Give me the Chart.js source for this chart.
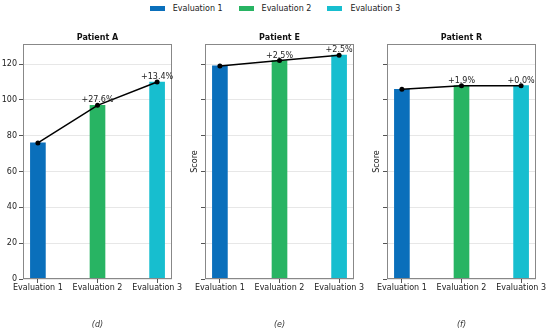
<!DOCTYPE html>
<html>
<head>
<meta charset="utf-8">
<script src="https://cdn.jsdelivr.net/npm/chart.js@4"></script>
<style>
  body { margin: 0; width: 550px; height: 331px; background: #fff; position: relative; overflow: hidden; font-family: "DejaVu Sans", sans-serif; }
  canvas { position: absolute; top: 0; }
  #legend { position: absolute; top: 4px; left: 0; width: 550px; display: flex; justify-content: center; font-size: 8px; color: #222; }
  #legend span.item { display: flex; align-items: center; margin: 0 8px; }
  #legend span.box { display: inline-block; width: 15px; height: 5px; margin-right: 8px; }
</style>
</head>
<body>
<div id="legend"></div>
<canvas id="c0"></canvas>
<canvas id="c1"></canvas>
<canvas id="c2"></canvas>
<script>
let categories = ["Evaluation 1", "Evaluation 2", "Evaluation 3"];
let colors = ["#0a6fbb", "#28b463", "#17becf"];
let patients = ["Patient A", "Patient E", "Patient R"];
let captions = ["(d)", "(e)", "(f)"];
let scoresA = [76, 97, 110];
let scoresE = [119, 122, 125];
let scoresR = [106, 108, 108];
let yTicks = [0, 20, 40, 60, 80, 100, 120];
let yMax = 131.25;

let series = [scoresA, scoresE, scoresR];

// canvas left, canvas width, y axis width (plot left = left + axis width)
let panels = [
    { left: 0, width: 192, axisW: 23, showLabels: true },
    { left: 186, width: 188, axisW: 19, showLabels: false },
    { left: 368, width: 182, axisW: 19, showLabels: false }
];

let legend = document.getElementById("legend");
categories.forEach((c, i) => {
    legend.innerHTML += `<span class="item"><span class="box" style="background:${colors[i]}"></span>${c}</span>`;
});

function pct(vals, i) {
    let p = (vals[i] - vals[i-1]) / vals[i-1] * 100;
    return (p >= 0 ? "+" : "") + p.toFixed(1) + "%";
}

let extras = {
    id: "extras",
    afterDraw(chart) {
        let ctx = chart.ctx;
        let a = chart.chartArea;
        let info = chart.options.plugins.extras;
        ctx.save();
        ctx.strokeStyle = "#888";
        ctx.lineWidth = 1;
        ctx.strokeRect(a.left + 0.5, a.top + 0.5, a.right - a.left - 1, a.bottom - a.top - 1);

        ctx.fillStyle = "#111";
        ctx.textAlign = "center";
        ctx.font = "bold 8px 'DejaVu Sans'";
        ctx.textBaseline = "alphabetic";
        ctx.fillText(info.title, (a.left + a.right) / 2, a.top - 4);

        ctx.font = "italic 8px 'DejaVu Sans'";
        ctx.fillStyle = "#333";
        ctx.fillText(info.caption, (a.left + a.right) / 2, 327);

        ctx.font = "8px 'DejaVu Sans'";
        ctx.fillStyle = "#222";
        let vals = info.vals;
        let xs = chart.scales.x, ys = chart.scales.y;
        for (let i = 1; i < vals.length; i++) {
            ctx.fillText(pct(vals, i), xs.getPixelForValue(i), ys.getPixelForValue(vals[i]) - 3);
        }
        ctx.restore();
    }
};

panels.forEach((p, k) => {
    let cv = document.getElementById("c" + k);
    cv.style.left = p.left + "px";
    cv.width = p.width;
    cv.height = 331;
    cv.style.width = p.width + "px";
    cv.style.height = "331px";

    let vals = series[k];
    let pts = vals.map((v, i) => ({ x: i, y: v }));

    new Chart(cv, {
        data: {
            datasets: [
                {
                    type: "line",
                    data: pts,
                    borderColor: "#000",
                    borderWidth: 1.5,
                    pointRadius: 2.5,
                    pointBackgroundColor: "#000",
                    pointBorderWidth: 0,
                    order: 0
                },
                {
                    type: "bar",
                    data: pts,
                    backgroundColor: colors,
                    barThickness: 15,
                    order: 1
                }
            ]
        },
        options: {
            responsive: false,
            animation: false,
            layout: { padding: { top: 44, right: p.width - p.axisW - 149, bottom: 32, left: 0 } },
            plugins: {
                legend: { display: false },
                tooltip: { enabled: false },
                extras: { title: patients[k], caption: captions[k], vals: vals }
            },
            scales: {
                x: {
                    type: "linear",
                    offset: false,
                    min: -0.25,
                    max: 2.25,
                    afterBuildTicks: s => { s.ticks = categories.map((_, i) => ({ value: i })); },
                    afterFit: s => { s.height = 20; s.paddingLeft = 0; s.paddingRight = 0; },
                    ticks: {
                        callback: v => categories[v],
                        font: { family: "DejaVu Sans", size: 8 },
                        color: "#222",
                        padding: 0,
                        maxRotation: 0,
                        autoSkip: false
                    },
                    grid: { offset: false, drawOnChartArea: false, drawTicks: true, tickLength: 4, tickColor: "#555", tickWidth: 1 },
                    border: { display: false }
                },
                y: {
                    min: 0,
                    max: yMax,
                    afterBuildTicks: s => { s.ticks = yTicks.map(v => ({ value: v })); },
                    afterFit: s => { s.width = p.axisW; s.paddingTop = 0; s.paddingBottom = 0; },
                    title: {
                        display: !p.showLabels,
                        text: "Score",
                        font: { family: "DejaVu Sans", size: 8 },
                        color: "#222",
                        padding: { top: 4, bottom: 0 }
                    },
                    ticks: {
                        display: p.showLabels,
                        font: { family: "DejaVu Sans", size: 8 },
                        color: "#222",
                        padding: 2
                    },
                    grid: {
                        color: "rgba(0,0,0,0.12)",
                        borderDash: [2, 2],
                        lineWidth: 0.8,
                        tickLength: 4,
                        tickColor: "#555",
                        tickWidth: 1,
                        tickBorderDash: []
                    },
                    border: { display: false }
                }
            }
        },
        plugins: [extras]
    });
});
</script>
</body>
</html>
